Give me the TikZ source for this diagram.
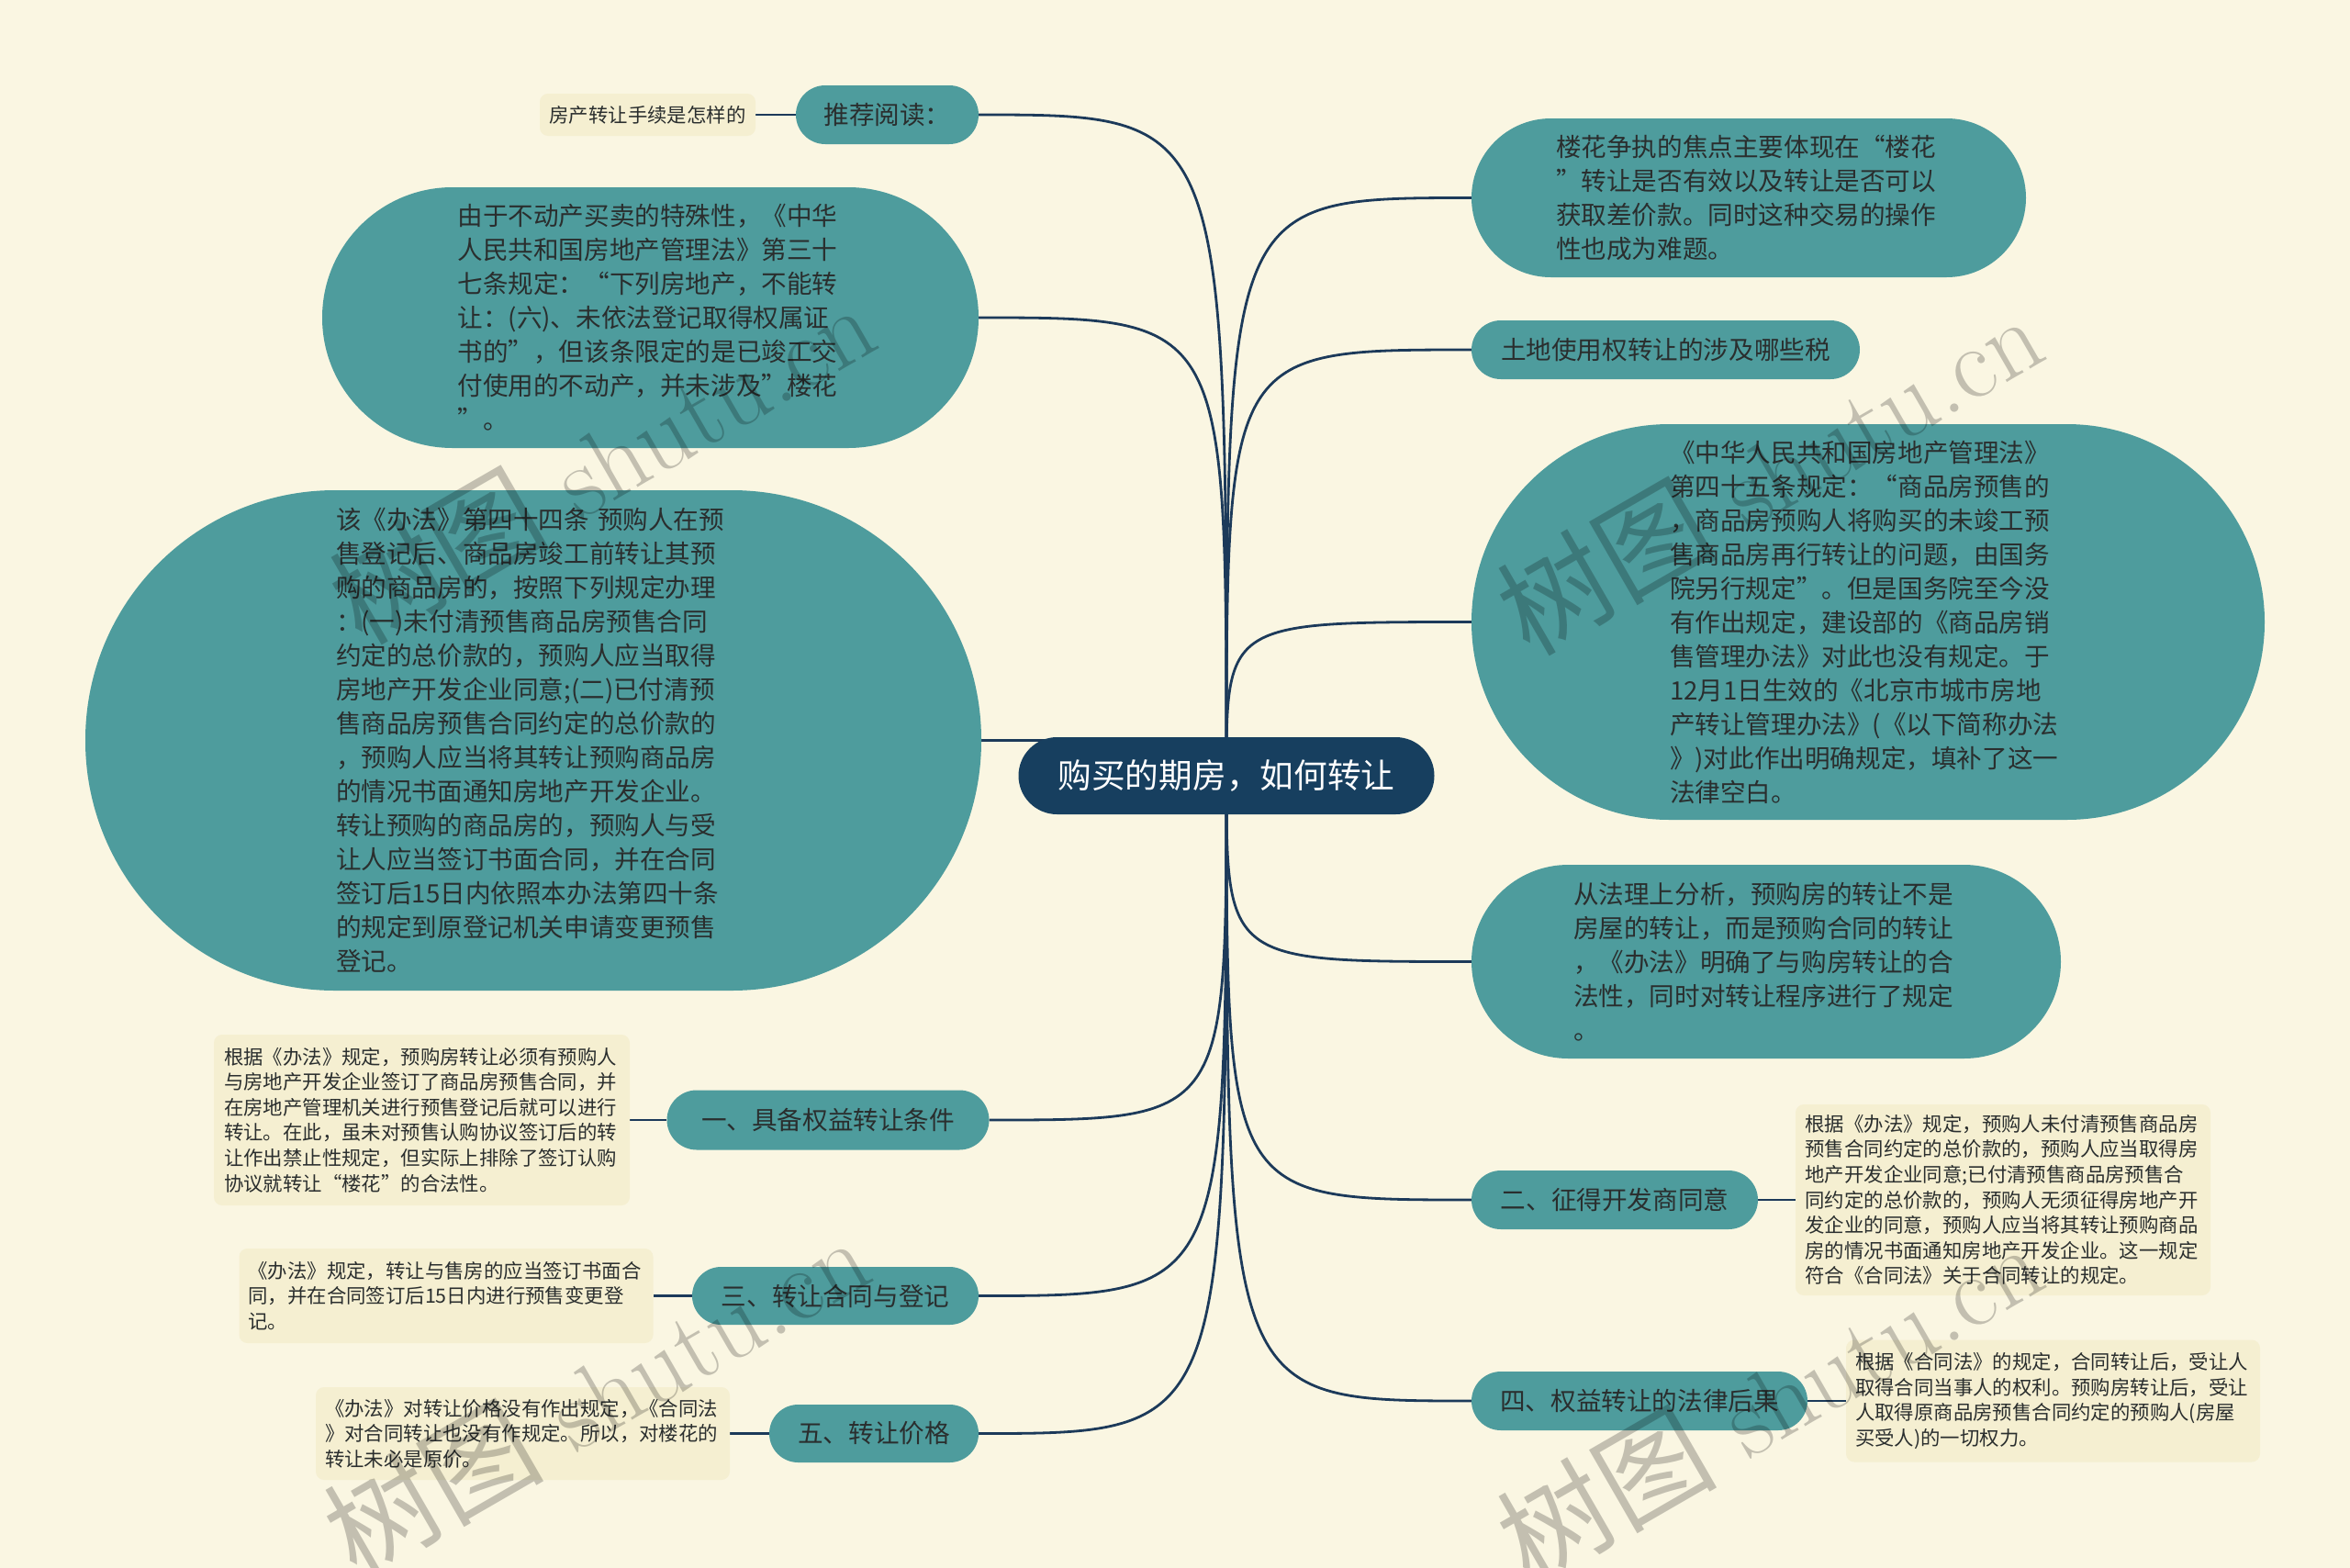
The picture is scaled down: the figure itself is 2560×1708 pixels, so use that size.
\documentclass[tikz,border=0pt]{standalone}
\usepackage{fontspec}
\newfontfamily\cjk{Noto Sans CJK SC}
\usetikzlibrary{backgrounds}
\definecolor{bgc}{HTML}{FAF6E2}
\definecolor{tealc}{HTML}{4E9C9D}
\definecolor{navyc}{HTML}{173F5F}
\definecolor{linec}{HTML}{1C3A5A}
\definecolor{leafc}{HTML}{F5EFD1}
\definecolor{txtc}{HTML}{2A2E2E}
\begin{document}
\begin{tikzpicture}[x=1pt,y=-1pt,
  conn/.style={draw=linec, line width=2.8pt},
  stad/.style n args={3}{fill=tealc, rectangle, rounded corners=#3, minimum width=#1, minimum height=#2, inner sep=0pt, text=txtc},
  bigtxt/.style={font=\cjk\fontsize{27.6pt}{37pt}\selectfont, align=left, text width=#1},
  pilltxt/.style={font=\cjk\fontsize{27.6pt}{33pt}\selectfont},
  leaf/.style n args={2}{fill=leafc, rectangle, rounded corners=9pt, minimum width=#1, minimum height=#2, inner sep=0pt, text=txtc, font=\cjk\fontsize{21.4pt}{27.6pt}\selectfont},
  leaftxt/.style={align=left, text width=431pt},
  wm/.style={text=black, text opacity=0.22, font=\fontsize{112pt}{120pt}\selectfont, inner sep=0pt, rotate=30},
]
\useasboundingbox (0,0) rectangle (2560,1708);

% central topic
\node[stad={453pt}{84pt}{42pt}, fill=navyc, text=white, font=\cjk\fontsize{36.7pt}{44pt}\selectfont] (c) at (1336,845) {购买的期房，如何转让};

% left side
\node[stad={199pt}{64pt}{32pt}, pilltxt] (tj) at (966.5,125) {推荐阅读：};
\node[leaf={235pt}{46pt}] (lf0) at (705.5,125) {房产转让手续是怎样的};

\node[stad={715pt}{284pt}{142pt}, bigtxt=420pt] (A) at (708.5,346) {由于不动产买卖的特殊性，《中华\\人民共和国房地产管理法》第三十\\七条规定：“下列房地产，不能转\\让：(六)、未依法登记取得权属证\\书的”，但该条限定的是已竣工交\\付使用的不动产，并未涉及”楼花\\”。};

\node[stad={976pt}{545pt}{272pt}, bigtxt=430pt] (B) at (581,806.5) {该《办法》第四十四条 预购人在预\\售登记后、商品房竣工前转让其预\\购的商品房的，按照下列规定办理\\：(一)未付清预售商品房预售合同\\约定的总价款的，预购人应当取得\\房地产开发企业同意;(二)已付清预\\售商品房预售合同约定的总价款的\\，预购人应当将其转让预购商品房\\的情况书面通知房地产开发企业。\\转让预购的商品房的，预购人与受\\让人应当签订书面合同，并在合同\\签订后15日内依照本办法第四十条\\的规定到原登记机关申请变更预售\\登记。};

\node[stad={351pt}{65pt}{32.5pt}, pilltxt] (L1) at (902,1220) {一、具备权益转让条件};
\node[leaf={453pt}{186pt}, leaftxt] (lf1) at (459.5,1220) {根据《办法》规定，预购房转让必须有预购人\\与房地产开发企业签订了商品房预售合同，并\\在房地产管理机关进行预售登记后就可以进行\\转让。在此，虽未对预售认购协议签订后的转\\让作出禁止性规定，但实际上排除了签订认购\\协议就转让“楼花”的合法性。};

\node[stad={312pt}{63pt}{31.5pt}, pilltxt] (L3) at (910,1411.5) {三、转让合同与登记};
\node[leaf={451pt}{103pt}, leaftxt] (lf3) at (486,1411.5) {《办法》规定，转让与售房的应当签订书面合\\同，并在合同签订后15日内进行预售变更登\\记。};

\node[stad={228pt}{63pt}{31.5pt}, pilltxt] (L5) at (952,1561.5) {五、转让价格};
\node[leaf={451pt}{101pt}, leaftxt] (lf5) at (569.5,1561.5) {《办法》对转让价格没有作出规定，《合同法\\》对合同转让也没有作规定。所以，对楼花的\\转让未必是原价。};

% right side
\node[stad={604pt}{173pt}{86.5pt}, bigtxt=420pt] (R1) at (1905,215.5) {楼花争执的焦点主要体现在“楼花\\”转让是否有效以及转让是否可以\\获取差价款。同时这种交易的操作\\性也成为难题。};

\node[stad={423pt}{64pt}{32pt}, pilltxt] (R2) at (1814.5,381) {土地使用权转让的涉及哪些税};

\node[stad={864pt}{431pt}{215.5pt}, bigtxt=432pt] (C) at (2035,677.5) {《中华人民共和国房地产管理法》\\第四十五条规定：“商品房预售的\\，商品房预购人将购买的未竣工预\\售商品房再行转让的问题，由国务\\院另行规定”。但是国务院至今没\\有作出规定，建设部的《商品房销\\售管理办法》对此也没有规定。于\\12月1日生效的《北京市城市房地\\产转让管理办法》(《以下简称办法\\》)对此作出明确规定，填补了这一\\法律空白。};

\node[stad={642pt}{211pt}{105.5pt}, bigtxt=420pt] (D) at (1924,1047.5) {从法理上分析，预购房的转让不是\\房屋的转让，而是预购合同的转让\\，《办法》明确了与购房转让的合\\法性，同时对转让程序进行了规定\\。};

\node[stad={312pt}{64pt}{32pt}, pilltxt] (R5) at (1759,1307) {二、征得开发商同意};
\node[leaf={452pt}{208pt}, leaftxt] (lf2) at (2182,1307) {根据《办法》规定，预购人未付清预售商品房\\预售合同约定的总价款的，预购人应当取得房\\地产开发企业同意;已付清预售商品房预售合\\同约定的总价款的，预购人无须征得房地产开\\发企业的同意，预购人应当将其转让预购商品\\房的情况书面通知房地产开发企业。这一规定\\符合《合同法》关于合同转让的规定。};

\node[stad={366pt}{64pt}{32pt}, pilltxt] (R6) at (1786,1526) {四、权益转让的法律后果};
\node[leaf={451pt}{133pt}, leaftxt] (lf4) at (2236.5,1526) {根据《合同法》的规定，合同转让后，受让人\\取得合同当事人的权利。预购房转让后，受让\\人取得原商品房预售合同约定的预购人(房屋\\买受人)的一切权力。};

% background + connectors
\begin{scope}[on background layer]
\fill[bgc] (0,0) rectangle (2560,1708);
\foreach \n in {tj,A,B,L1,L3,L5}{
  \draw[conn] (c.center) .. controls (c.center |- \n.east) .. (\n.east);
}
\foreach \n in {R1,R2,C,D,R5,R6}{
  \draw[conn] (c.center) .. controls (c.center |- \n.west) .. (\n.west);
}
\draw[conn] (tj.west) -- (lf0.east);
\draw[conn] (L1.west) -- (lf1.east);
\draw[conn] (L3.west) -- (lf3.east);
\draw[conn] (L5.west) -- (lf5.east);
\draw[conn] (R5.east) -- (lf2.west);
\draw[conn] (R6.east) -- (lf4.west);
\end{scope}

% watermarks
\node[wm] (w1) at (655,502) {{\cjk\fontsize{120pt}{120pt}\selectfont 树图} shutu.cn};
\node[wm] (w2) at (1927,514) {{\cjk\fontsize{120pt}{120pt}\selectfont 树图} shutu.cn};
\node[wm] (w3) at (649,1518) {{\cjk\fontsize{120pt}{120pt}\selectfont 树图} shutu.cn};
\node[wm] (w4) at (1927,1525) {{\cjk\fontsize{120pt}{120pt}\selectfont 树图} shutu.cn};
\end{tikzpicture}
\end{document}
